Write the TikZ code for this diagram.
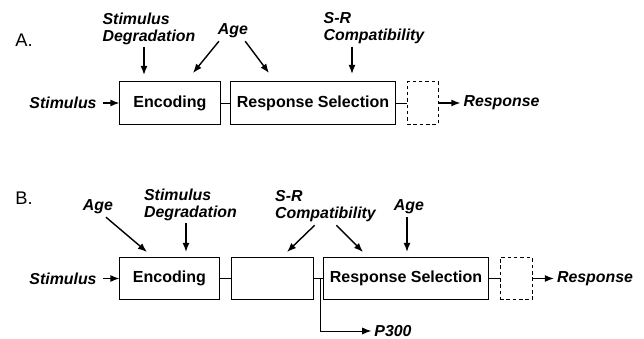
\documentclass[tikz,border=0pt]{standalone}
\usepackage{fontspec}
\setmainfont{Liberation Sans}
\usetikzlibrary{arrows.meta}

\begin{document}
\begin{tikzpicture}[x=0.025cm,y=-0.025cm,
    stage/.style={draw,line width=0.7pt,inner sep=0pt,minimum height=1.05cm,
      font=\fontsize{11.4}{12}\selectfont\bfseries},
    spare/.style={stage,dash pattern=on 2.5pt off 2pt},
    factor/.style={align=left,inner sep=2pt,font=\fontsize{11.3}{12}\selectfont\bfseries\itshape},
    panel/.style={font=\fontsize{13}{15}\selectfont},
    arr/.style={line width=1pt,-{Latex[length=6.5pt,width=5pt]}},
    link/.style={line width=0.7pt}]
  \useasboundingbox (0,0) rectangle (644,339);
  % panel A
  \node [panel] (labA) at (24,40) {A.};
  \node [stage,minimum width=2.5cm] (encA) at (170,103) {Encoding};
  \node [stage,minimum width=4.1cm] (selA) at (313,103) {Response Selection};
  \node [spare,minimum width=0.775cm] (outA) at (422.5,103) {};
  \node [factor] (stimA) at (63,103) {Stimulus};
  \node [factor] (respA) at (501.5,103) {Response};
  \node [factor] (degA) at (149,28.5) {Stimulus\\Degradation};
  \node [factor] (ageA) at (233,31) {Age};
  \node [factor] (srA) at (374,28) {S-R\\Compatibility};
  \coordinate (degAend) at (144,75);
  \coordinate (ageAl) at (193,73);
  \coordinate (ageAr) at (269,73);
  \coordinate (srAend) at (352,74);
  \draw [link] (encA) -- (selA);
  \draw [link] (selA) -- (outA);
  \draw [arr,shorten <=2.5pt] (stimA) -- (encA);
  \draw [arr] (outA) -- (respA);
  \draw [arr] (degA.south -| degAend) -- (degAend);
  \draw [arr] (ageA.216) -- (ageAl);
  \draw [arr] (ageA.320) -- (ageAr);
  \draw [arr] (srA.south -| srAend) -- (srAend);
  % panel B
  \node [panel] (labB) at (24,198) {B.};
  \node [stage,minimum width=2.475cm] (encB) at (169.5,278.5) {Encoding};
  \node [stage,minimum width=2.05cm] (midB) at (272,278.5) {};
  \node [stage,minimum width=4.1cm] (selB) at (406,278.5) {Response Selection};
  \node [spare,minimum width=0.8cm] (outB) at (516,278.5) {};
  \node [factor] (stimB) at (63,278.5) {Stimulus};
  \node [factor] (respB) at (595,278.5) {Response};
  \node [factor] (p300) at (393,331) {P300};
  \node [factor] (ageBl) at (98,207) {Age};
  \node [factor] (degB) at (190.5,204.5) {Stimulus\\Degradation};
  \node [factor] (srB) at (325.5,206.5) {S-R\\Compatibility};
  \node [factor] (ageBr) at (409,207) {Age};
  \coordinate (ageBlend) at (147,252);
  \coordinate (degBend) at (186,252);
  \coordinate (srBl) at (287,252);
  \coordinate (srBr) at (363,252);
  \coordinate (ageBrend) at (407,252);
  \coordinate (fork) at (320,278.5);
  \draw [link] (encB) -- (midB);
  \draw [link] (midB) -- (selB);
  \draw [link] (selB) -- (outB);
  \draw [arr,shorten <=2.5pt] (stimB) -- (encB);
  \draw [arr] (outB) -- (respB);
  \draw [arr,line width=0.7pt] (fork) |- (p300);
  \draw [arr] (ageBl.308) -- (ageBlend);
  \draw [arr] (degB.south -| degBend) -- (degBend);
  \draw [arr] (srB.240) -- (srBl);
  \draw [arr] (srB.300) -- (srBr);
  \draw [arr] (ageBr.south -| ageBrend) -- (ageBrend);
\end{tikzpicture}
\end{document}
